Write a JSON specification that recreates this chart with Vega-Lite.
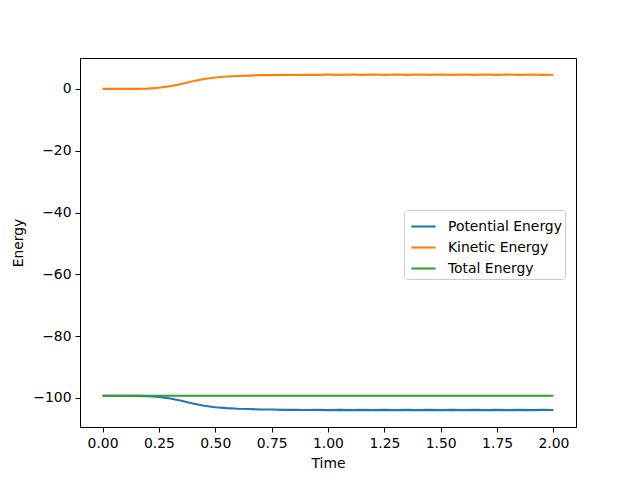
{
  "$schema": "https://vega.github.io/schema/vega-lite/v6.json",
  "autosize": {"type": "none"},
  "padding": {"left": 80, "top": 58, "right": 64, "bottom": 53},
  "width": 496,
  "height": 369,
  "background": "white",
  "config": {
    "view": {"stroke": "black", "strokeWidth": 1},
    "font": "DejaVu Sans",
    "axis": {
      "grid": false,
      "domainColor": "black",
      "tickColor": "black",
      "tickSize": 5,
      "labelColor": "black",
      "labelFontSize": 13.9,
      "titleFontSize": 13.9,
      "titleFontWeight": "normal",
      "titleColor": "black",
      "labelFont": "DejaVu Sans",
      "titleFont": "DejaVu Sans"
    }
  },
  "data": {
    "values": [
      {"t": 0.00, "K": 0.00, "P": -99.30, "T": -99.30},
      {"t": 0.05, "K": 0.00, "P": -99.30, "T": -99.30},
      {"t": 0.10, "K": 0.00, "P": -99.30, "T": -99.30},
      {"t": 0.15, "K": 0.02, "P": -99.32, "T": -99.30},
      {"t": 0.20, "K": 0.10, "P": -99.40, "T": -99.30},
      {"t": 0.25, "K": 0.35, "P": -99.65, "T": -99.30},
      {"t": 0.30, "K": 0.90, "P": -100.20, "T": -99.30},
      {"t": 0.35, "K": 1.60, "P": -100.90, "T": -99.30},
      {"t": 0.40, "K": 2.50, "P": -101.80, "T": -99.30},
      {"t": 0.45, "K": 3.20, "P": -102.50, "T": -99.30},
      {"t": 0.50, "K": 3.70, "P": -103.00, "T": -99.30},
      {"t": 0.55, "K": 4.00, "P": -103.30, "T": -99.30},
      {"t": 0.60, "K": 4.20, "P": -103.50, "T": -99.30},
      {"t": 0.65, "K": 4.30, "P": -103.60, "T": -99.30},
      {"t": 0.70, "K": 4.45, "P": -103.75, "T": -99.30},
      {"t": 0.75, "K": 4.45, "P": -103.75, "T": -99.30},
      {"t": 0.80, "K": 4.55, "P": -103.85, "T": -99.30},
      {"t": 0.85, "K": 4.50, "P": -103.80, "T": -99.30},
      {"t": 0.90, "K": 4.60, "P": -103.90, "T": -99.30},
      {"t": 0.95, "K": 4.55, "P": -103.85, "T": -99.30},
      {"t": 1.00, "K": 4.65, "P": -103.95, "T": -99.30},
      {"t": 1.05, "K": 4.55, "P": -103.85, "T": -99.30},
      {"t": 1.10, "K": 4.65, "P": -103.95, "T": -99.30},
      {"t": 1.15, "K": 4.55, "P": -103.85, "T": -99.30},
      {"t": 1.20, "K": 4.65, "P": -103.95, "T": -99.30},
      {"t": 1.25, "K": 4.55, "P": -103.85, "T": -99.30},
      {"t": 1.30, "K": 4.65, "P": -103.95, "T": -99.30},
      {"t": 1.35, "K": 4.55, "P": -103.85, "T": -99.30},
      {"t": 1.40, "K": 4.65, "P": -103.95, "T": -99.30},
      {"t": 1.45, "K": 4.55, "P": -103.85, "T": -99.30},
      {"t": 1.50, "K": 4.65, "P": -103.95, "T": -99.30},
      {"t": 1.55, "K": 4.55, "P": -103.85, "T": -99.30},
      {"t": 1.60, "K": 4.65, "P": -103.95, "T": -99.30},
      {"t": 1.65, "K": 4.55, "P": -103.85, "T": -99.30},
      {"t": 1.70, "K": 4.65, "P": -103.95, "T": -99.30},
      {"t": 1.75, "K": 4.55, "P": -103.85, "T": -99.30},
      {"t": 1.80, "K": 4.65, "P": -103.95, "T": -99.30},
      {"t": 1.85, "K": 4.55, "P": -103.85, "T": -99.30},
      {"t": 1.90, "K": 4.65, "P": -103.95, "T": -99.30},
      {"t": 1.95, "K": 4.55, "P": -103.85, "T": -99.30},
      {"t": 2.00, "K": 4.60, "P": -103.90, "T": -99.30}
    ]
  },
  "transform": [
    {"fold": ["P", "K", "T"], "as": ["key", "value"]},
    {"lookup": "key", "from": {"data": {"values": [
      {"key": "P", "series": "Potential Energy"},
      {"key": "K", "series": "Kinetic Energy"},
      {"key": "T", "series": "Total Energy"}
    ]}, "key": "key", "fields": ["series"]}}
  ],
  "mark": {"type": "line", "strokeWidth": 2.1, "clip": true},
  "encoding": {
    "x": {
      "field": "t", "type": "quantitative", "title": "Time",
      "scale": {"domain": [-0.1, 2.1], "nice": false, "zero": false},
      "axis": {"values": [0, 0.25, 0.5, 0.75, 1.0, 1.25, 1.5, 1.75, 2.0], "format": ".2f", "labelPadding": 4, "titlePadding": 7}
    },
    "y": {
      "field": "value", "type": "quantitative", "title": "Energy",
      "scale": {"domain": [-109.4, 10.0], "nice": false, "zero": false},
      "axis": {"values": [-100, -80, -60, -40, -20, 0], "labelPadding": 4, "titlePadding": 7}
    },
    "color": {
      "field": "series", "type": "nominal",
      "scale": {"domain": ["Potential Energy", "Kinetic Energy", "Total Energy"], "range": ["#1f77b4", "#ff7f0e", "#2ca02c"]},
      "legend": {
        "title": null,
        "orient": "none",
        "legendX": 324,
        "legendY": 152,
        "symbolType": "stroke",
        "symbolStrokeWidth": 2.1,
        "symbolSize": 590,
        "symbolOffset": 3,
        "labelFontSize": 13.9,
        "labelFont": "DejaVu Sans",
        "labelColor": "black",
        "labelOffset": 11,
        "padding": 3,
        "rowPadding": 0,
        "fillColor": "rgba(255,255,255,0.8)",
        "strokeColor": "#cccccc",
        "cornerRadius": 3
      }
    }
  }
}
